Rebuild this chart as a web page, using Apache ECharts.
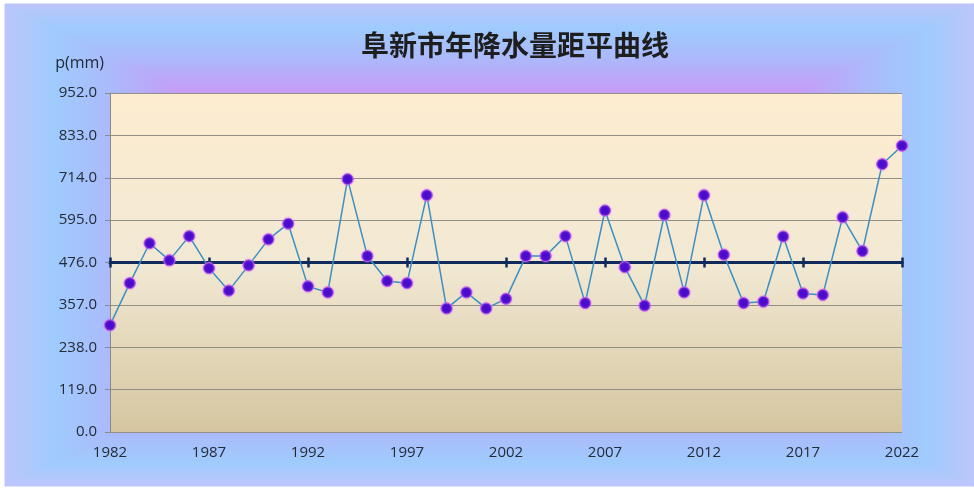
<!DOCTYPE html>
<html>
<head>
<meta charset="utf-8">
<script src="https://cdn.jsdelivr.net/npm/echarts@6/dist/echarts.min.js"></script>
<style>
  html, body { margin: 0; padding: 0; background: #ffffff; }
  #chart { width: 974px; height: 488px; }
</style>
</head>
<body>
<div id="chart"></div>
<script>
// Annual precipitation of Fuxin (mm), 1982-2022
const years = [
  '1982', '1983', '1984', '1985', '1986', '1987', '1988', '1989', '1990', '1991',
  '1992', '1993', '1994', '1995', '1996', '1997', '1998', '1999', '2000', '2001',
  '2002', '2003', '2004', '2005', '2006', '2007', '2008', '2009', '2010', '2011',
  '2012', '2013', '2014', '2015', '2016', '2017', '2018', '2019', '2020', '2021',
  '2022'
];
const precipitation = [
  300, 418, 530, 482, 550, 460, 397, 468, 541, 585,
  409, 392, 710, 494, 424, 418, 665, 347, 392, 347,
  374, 494, 494, 550, 362, 622, 463, 355, 610, 392,
  665, 498, 362, 366, 549, 389, 385, 603, 508, 752,
  804
];
// Long-term mean used as the crossing line of the anomaly curve
const meanValue = 476;
const yMin = 0;
const yMax = 952;
const yStep = 119;

const chart = echarts.init(document.getElementById('chart'), null, { renderer: 'canvas' });

// Frame background: rectangular "from centre" gradient built from four triangles
const X0 = 5, X1 = 974, Y0 = 4, Y1 = 486;
const CX = (X0 + X1) / 2, CY = (Y0 + Y1) / 2;
const frameStops = [
  { offset: 0, color: '#bdc6fb' },
  { offset: 0.1, color: '#9fcbfd' },
  { offset: 0.22, color: '#abbafb' },
  { offset: 0.36, color: '#c59cf8' },
  { offset: 1, color: '#c99af8' }
];
function tri(points, x, y, x2, y2) {
  const fill = { type: 'linear', x: x, y: y, x2: x2, y2: y2, colorStops: frameStops };
  return {
    type: 'polygon',
    z: -100,
    silent: true,
    shape: { points: points },
    style: { fill: fill, stroke: fill, lineWidth: 1 }
  };
}

const tickLine = '#102a5c';
const fontFamily = '"Open Sans", "Noto Sans", sans-serif';

const option = {
  backgroundColor: '#ffffff',
  animation: false,
  graphic: [
    {
      type: 'rect',
      z: -101,
      silent: true,
      shape: { x: X0, y: Y0, width: X1 - X0, height: Y1 - Y0 },
      style: { fill: '#aebcfb' }
    },
    tri([[X0, Y0], [X1, Y0], [CX, CY]], 0, 0, 0, 1),
    tri([[X0, Y1], [X1, Y1], [CX, CY]], 0, 1, 0, 0),
    tri([[X0, Y0], [X0, Y1], [CX, CY]], 0, 0, 1, 0),
    tri([[X1, Y0], [X1, Y1], [CX, CY]], 1, 0, 0, 0)
  ],
  title: {
    text: '阜新市年降水量距平曲线',
    left: 510,
    top: 26,
    textAlign: 'center',
    textStyle: {
      fontFamily: '"Noto Sans CJK SC", sans-serif',
      fontSize: 28,
      fontWeight: 'bold',
      color: '#1e1e1e'
    }
  },
  grid: {
    left: 110,
    right: 72,
    top: 93,
    bottom: 56,
    show: true,
    borderWidth: 0,
    backgroundColor: {
      type: 'linear', x: 0, y: 0, x2: 0, y2: 1,
      colorStops: [
        { offset: 0, color: '#fdecd0' },
        { offset: 0.5, color: '#f2e9d4' },
        { offset: 1, color: '#d5c6a0' }
      ]
    }
  },
  xAxis: [
    {
      type: 'category',
      data: years,
      position: 'bottom',
      boundaryGap: false,
      axisLine: { show: false },
      axisTick: { show: false },
      splitLine: { show: false },
      axisLabel: {
        interval: 4,
        margin: 13,
        fontSize: 15,
        fontFamily: fontFamily,
        color: '#222b38'
      }
    },
    {
      type: 'category',
      data: years,
      position: 'bottom',
      boundaryGap: false,
      axisLine: {
        show: true,
        onZero: true,
        onZeroAxisIndex: 1,
        lineStyle: { color: tickLine, width: 3 }
      },
      axisTick: { show: true, interval: 4, length: 5, lineStyle: { color: tickLine, width: 2.5 } },
      axisLabel: { show: false },
      splitLine: { show: false }
    },
    {
      type: 'category',
      data: years,
      position: 'bottom',
      boundaryGap: false,
      axisLine: {
        show: true,
        onZero: true,
        onZeroAxisIndex: 1,
        lineStyle: { color: tickLine, width: 3 }
      },
      axisTick: { show: true, inside: true, interval: 4, length: 5, lineStyle: { color: tickLine, width: 2.5 } },
      axisLabel: { show: false },
      splitLine: { show: false }
    }
  ],
  yAxis: [
    {
      type: 'value',
      min: yMin,
      max: yMax,
      interval: yStep,
      name: 'p(mm)',
      nameLocation: 'end',
      nameGap: 22,
      nameTextStyle: {
        align: 'right',
        padding: [0, 6, 0, 0],
        fontSize: 16,
        fontFamily: fontFamily,
        color: '#222b38'
      },
      axisLine: { show: true, lineStyle: { color: '#8c8a88', width: 1 } },
      axisTick: { show: true, length: 5, lineStyle: { color: '#8c8a88' } },
      splitLine: { show: true, lineStyle: { color: '#928e88', width: 1.2 } },
      axisLabel: {
        margin: 13,
        fontSize: 15,
        fontFamily: fontFamily,
        color: '#222b38',
        formatter: function (v) { return v.toFixed(1); }
      }
    },
    {
      // Hidden helper axis whose zero sits at the mean value
      type: 'value',
      min: yMin - meanValue,
      max: yMax - meanValue,
      show: false
    }
  ],
  series: [
    {
      type: 'line',
      xAxisIndex: 0,
      yAxisIndex: 0,
      data: precipitation,
      z: 5,
      symbol: 'circle',
      symbolSize: 11,
      showAllSymbol: true,
      lineStyle: { color: '#3a8fc4', width: 1.5 },
      itemStyle: {
        color: '#4a0ccc',
        borderColor: '#b85ee8',
        borderWidth: 1,
        shadowBlur: 2,
        shadowColor: 'rgba(225, 100, 250, 0.7)'
      }
    }
  ]
};

chart.setOption(option);
</script>
</body>
</html>
